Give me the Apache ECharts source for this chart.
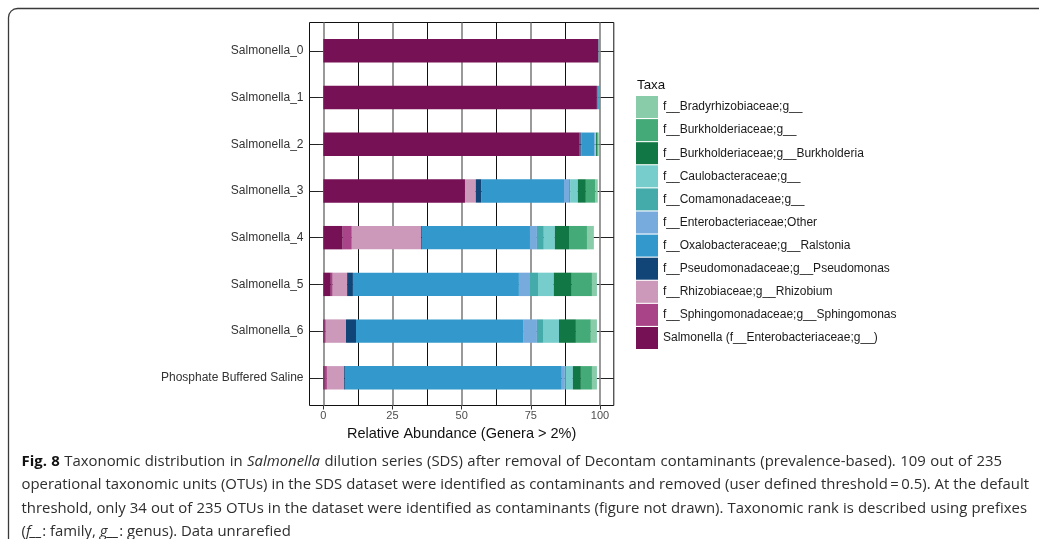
<!DOCTYPE html>
<html>
<head>
<meta charset="utf-8">
<script src="https://cdn.jsdelivr.net/npm/echarts@6/dist/echarts.min.js"></script>
<style>
  html, body { margin: 0; padding: 0; background: #fff; }
  #chart { width: 1039px; height: 539px; }
</style>
</head>
<body>
<div id="chart"></div>
<script>
// Samples, top to bottom
const categories = ['Salmonella_0', 'Salmonella_1', 'Salmonella_2', 'Salmonella_3',
  'Salmonella_4', 'Salmonella_5', 'Salmonella_6', 'Phosphate Buffered Saline'];

// Relative abundance (%) of each taxon per sample
const salmonella        = [99.5, 98.9, 92.7, 51.2,  7.0,  2.7,  0.5,  0.5];
const sphingomonas      = [ 0.0,  0.0,  0.2,  0.0,  3.3,  0.7,  0.4,  0.8];
const rhizobium         = [ 0.0,  0.0,  0.0,  3.9, 25.0,  5.2,  7.3,  6.2];
const pseudomonas       = [ 0.0,  0.0,  0.3,  2.1,  0.3,  2.1,  3.6,  0.3];
const ralstonia         = [ 0.0,  0.7,  4.7, 29.8, 39.1, 60.0, 60.4, 78.4];
const enteroOther       = [ 0.0,  0.0,  0.4,  1.8,  2.5,  4.0,  5.0,  1.1];
const comamonadaceae    = [ 0.4,  0.0,  0.0,  0.4,  2.5,  2.9,  2.2,  0.4];
const caulobacteraceae  = [ 0.0,  0.0,  0.3,  2.8,  4.0,  5.7,  5.8,  2.5];
const burkholderia      = [ 0.0,  0.0,  0.4,  2.9,  5.1,  6.5,  6.1,  2.9];
const burkholderiaceae  = [ 0.0,  0.3,  0.4,  3.5,  6.5,  7.3,  5.4,  4.0];
const bradyrhizobiaceae = [ 0.0,  0.0,  0.2,  0.8,  2.5,  1.8,  2.2,  1.8];

// Axis ticks
const xTickValues = [0, 25, 50, 75, 100];
const xMinorValues = [12.5, 37.5, 62.5, 87.5];

// Stack order, left to right
const taxa = [
  { name: 'Salmonella (f__Enterobacteriaceae;g__)', values: salmonella, color: '#771155' },
  { name: 'f__Sphingomonadaceae;g__Sphingomonas', values: sphingomonas, color: '#AA4488' },
  { name: 'f__Rhizobiaceae;g__Rhizobium', values: rhizobium, color: '#CC99BB' },
  { name: 'f__Pseudomonadaceae;g__Pseudomonas', values: pseudomonas, color: '#114477' },
  { name: 'f__Oxalobacteraceae;g__Ralstonia', values: ralstonia, color: '#3399CC' },
  { name: 'f__Enterobacteriaceae;Other', values: enteroOther, color: '#77AADD' },
  { name: 'f__Comamonadaceae;g__', values: comamonadaceae, color: '#44AAAA' },
  { name: 'f__Caulobacteraceae;g__', values: caulobacteraceae, color: '#77CCCC' },
  { name: 'f__Burkholderiaceae;g__Burkholderia', values: burkholderia, color: '#117744' },
  { name: 'f__Burkholderiaceae;g__', values: burkholderiaceae, color: '#44AA77' },
  { name: 'f__Bradyrhizobiaceae;g__', values: bradyrhizobiaceae, color: '#88CCAA' }
];

const captionLines = [
  '**Fig. 8** Taxonomic distribution in *Salmonella* dilution series (SDS) after removal of Decontam contaminants (prevalence-based). 109 out of 235',
  'operational taxonomic units (OTUs) in the SDS dataset were identified as contaminants and removed (user defined threshold\u2009=\u20090.5). At the default',
  'threshold, only 34 out of 235 OTUs in the dataset were identified as contaminants (figure not drawn). Taxonomic rank is described using prefixes',
  '(*f__*: family, *g__*: genus). Data unrarefied'
];

const AXIS_FONT = '"Liberation Sans", Arial, sans-serif';
const CAPTION_FONT = '"Open Sans", "Noto Sans", sans-serif';

// ---- caption layout: words placed along each line, lines spread to their right edge ----
const measureCtx = document.createElement('canvas').getContext('2d');
let captionSize = 14;
function fontString(run, size) {
  return (run.i ? 'italic ' : '') + (run.b ? 'bold ' : '') + (size || captionSize) + 'px ' + CAPTION_FONT;
}
function measureRun(run, size) {
  measureCtx.font = fontString(run, size);
  return measureCtx.measureText(run.t).width;
}
function parseWords(line) {
  const runs = [];
  let bold = false, ital = false, buf = '';
  const flush = () => { if (buf) runs.push({ t: buf, b: bold, i: ital }); buf = ''; };
  for (let k = 0; k < line.length; k++) {
    if (line.startsWith('**', k)) { flush(); bold = !bold; k++; continue; }
    if (line[k] === '*') { flush(); ital = !ital; continue; }
    buf += line[k];
  }
  flush();
  const words = [[]];
  runs.forEach(r => {
    r.t.split(' ').forEach((part, idx) => {
      if (idx > 0) words.push([]);
      if (part) words[words.length - 1].push({ t: part, b: r.b, i: r.i });
    });
  });
  return words.filter(w => w.length);
}
function naturalWidth(words, size) {
  const space = measureRun({ t: ' ' }, size);
  return words.reduce((s, w) => s + w.reduce((a, r) => a + measureRun(r, size), 0), 0) + space * (words.length - 1);
}

function buildCaption() {
  const left = 21.5;
  const rightEdges = [1002, 1029, 1027, null];
  const firstY = 461.5, lineStep = 23.4;
  const parsed = captionLines.map(parseWords);
  // pick a text size whose natural line width fits the two full lines
  const ref = (naturalWidth(parsed[1], 14) + naturalWidth(parsed[2], 14)) / 2;
  const want = ((rightEdges[1] - left) + (rightEdges[2] - left)) / 2;
  captionSize = Math.round(14 * want / ref * 10) / 10;
  const els = [];
  parsed.forEach((words, li) => {
    const widths = words.map(w => w.reduce((s, r) => s + measureRun(r), 0));
    const total = widths.reduce((a, b) => a + b, 0);
    const spaceW = measureRun({ t: ' ' });
    const gap = rightEdges[li] ? (rightEdges[li] - left - total) / (words.length - 1) : spaceW;
    let x = left;
    const y = firstY + li * lineStep;
    words.forEach((w, wi) => {
      let rx = x;
      w.forEach(r => {
        els.push({
          type: 'text', x: rx, y: y, silent: true,
          style: {
            text: r.t, fill: r.b ? '#111' : '#2e2e2e',
            font: fontString(r), verticalAlign: 'middle', align: 'left'
          }
        });
        rx += measureRun(r);
      });
      x += widths[wi] + gap;
    });
  });
  return els;
}

const chart = echarts.init(document.getElementById('chart'), null, { renderer: 'canvas' });

const barSeries = taxa.map(tx => ({
  type: 'bar',
  name: tx.name,
  stack: 'total',
  xAxisIndex: 1,
  yAxisIndex: 1,
  data: tx.values,
  barWidth: 23.4,
  clip: false,
  z: 3,
  itemStyle: { color: tx.color },
  emphasis: { disabled: true }
}));

// Vertical grid lines through the whole panel, kept under the bars
const gridLineSeries = {
  type: 'scatter',
  xAxisIndex: 0,
  yAxisIndex: 0,
  data: [[0, 0]],
  symbolSize: 0,
  silent: true,
  z: 1,
  markLine: {
    z: 1,
    silent: true,
    symbol: ['none', 'none'],
    label: { show: false },
    emphasis: { disabled: true },
    data: xTickValues.map(v => ({ xAxis: v, lineStyle: { color: '#808080', width: 1.6, type: 'solid' } }))
      .concat(xMinorValues.map(v => ({ xAxis: v, lineStyle: { color: '#111', width: 1, type: 'solid' } })))
  }
};

const option = {
  animation: false,
  backgroundColor: '#fff',
  grid: [
    { left: 309.5, top: 22.5, width: 304.3, height: 383, show: true, borderColor: '#111', borderWidth: 1, backgroundColor: 'transparent' },
    { left: 309.5, top: 50.8, width: 304.3, height: 327 }
  ],
  xAxis: [
    {
      gridIndex: 0, type: 'value', min: -5, max: 105,
      splitLine: { show: false },
      axisLine: { show: false },
      axisTick: { show: true, customValues: xTickValues, length: 4, lineStyle: { color: '#333', width: 1 } },
      axisLabel: { customValues: xTickValues, fontSize: 11, color: '#4d4d4d', margin: 5, fontFamily: AXIS_FONT },
      name: 'Relative Abundance (Genera > 2%)',
      nameLocation: 'middle',
      nameGap: 21,
      nameTextStyle: { fontSize: 14.5, color: '#111', fontFamily: AXIS_FONT }
    },
    { gridIndex: 1, type: 'value', min: -5, max: 105, show: false }
  ],
  yAxis: [
    { gridIndex: 0, type: 'value', min: 0, max: 1, show: false },
    {
      gridIndex: 1, type: 'category', data: categories, inverse: true, boundaryGap: false,
      axisLine: { show: false },
      axisTick: { show: true, interval: 0, length: 4, lineStyle: { color: '#333', width: 1 } },
      axisLabel: { interval: 0, fontSize: 12, color: '#333', margin: 6, fontFamily: AXIS_FONT },
      splitLine: { show: true, interval: 0, lineStyle: { color: '#222', width: 1 } }
    }
  ],
  legend: {
    orient: 'vertical',
    left: 636,
    top: 96,
    padding: 0,
    itemWidth: 22,
    itemHeight: 22,
    itemGap: 1.1,
    icon: 'rect',
    selectedMode: false,
    data: taxa.map(t => t.name).reverse(),
    textStyle: { fontSize: 12, color: '#1a1a1a', fontFamily: AXIS_FONT }
  },
  graphic: [
    {
      type: 'rect', silent: true,
      shape: { x: 8.5, y: 8.5, width: 1100, height: 600, r: 9 },
      style: { fill: 'none', stroke: '#3a3a3a', lineWidth: 1.3 }
    },
    {
      type: 'text', x: 637, y: 85, silent: true,
      style: { text: 'Taxa', fill: '#111', font: '13.3px ' + AXIS_FONT, verticalAlign: 'middle', align: 'left' }
    }
  ].concat(buildCaption()),
  series: [gridLineSeries].concat(barSeries)
};

chart.setOption(option);
</script>
</body>
</html>
